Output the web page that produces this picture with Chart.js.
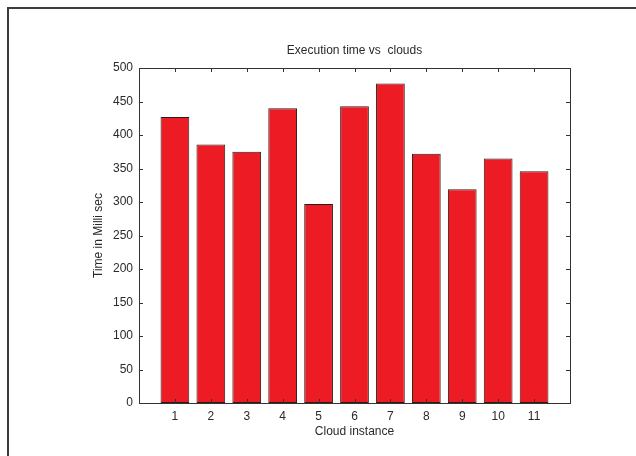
<!DOCTYPE html>
<html>
<head>
<meta charset="utf-8">
<script src="https://cdn.jsdelivr.net/npm/chart.js@4/dist/chart.umd.min.js"></script>
<style>
  html, body { margin: 0; padding: 0; background: #ffffff; }
  #wrap { width: 636px; height: 456px; position: relative; }
</style>
</head>
<body>
<div id="wrap"><canvas id="c" width="636" height="456"></canvas></div>
<script>
// Cloud instances and measured execution times (ms)
const categories = ['1', '2', '3', '4', '5', '6', '7', '8', '9', '10', '11'];
const execTimes = [427, 386, 375, 440, 297, 443, 477, 372, 319, 365, 346];
const yTickValues = [0, 50, 100, 150, 200, 250, 300, 350, 400, 450, 500];

const chartTitle = 'Execution time vs  clouds';
const xTitle = 'Cloud instance';
const yTitle = 'Time in Milli sec';

const FONT = '"Liberation Sans", Arial, Helvetica, sans-serif';
const INK = '#2a2a2a';
const AXIS = '#333333';

// Box around the axes with inward tick marks on all four sides,
// plus the figure frame.
const frameTicks = {
  id: 'frameTicks',
  beforeDraw(chart) {
    const ctx = chart.ctx;
    ctx.save();
    ctx.strokeStyle = '#3c3c3c';
    ctx.lineWidth = 2;
    ctx.beginPath();
    ctx.moveTo(8, chart.height + 2);
    ctx.lineTo(8, 8);
    ctx.lineTo(chart.width + 2, 8);
    ctx.stroke();
    ctx.restore();
  },
  afterDatasetsDraw(chart) {
    const {ctx, chartArea: a, scales: {x, y}} = chart;
    const len = 4;
    ctx.save();
    ctx.strokeStyle = AXIS;
    ctx.lineWidth = 1;
    ctx.beginPath();
    y.ticks.forEach(t => {
      const py = Math.round(y.getPixelForValue(t.value)) + 0.5;
      ctx.moveTo(a.left, py); ctx.lineTo(a.left + len, py);
      ctx.moveTo(a.right, py); ctx.lineTo(a.right - len, py);
    });
    x.ticks.forEach(t => {
      const px = Math.round(x.getPixelForValue(t.value)) + 0.5;
      ctx.moveTo(px, a.bottom); ctx.lineTo(px, a.bottom - len);
      ctx.moveTo(px, a.top); ctx.lineTo(px, a.top + len);
    });
    ctx.stroke();
    ctx.strokeRect(Math.round(a.left) + 0.5, Math.round(a.top) + 0.5,
                   Math.round(a.right - a.left), Math.round(a.bottom - a.top));
    ctx.restore();
  }
};

new Chart(document.getElementById('c'), {
  type: 'bar',
  data: {
    datasets: [{
      data: categories.map((c, i) => ({x: i + 1, y: execTimes[i]})),
      backgroundColor: '#ed1c24',
      borderColor: '#2b1c1c',
      borderWidth: 1,
      borderSkipped: false,
      barPercentage: 0.8,
      categoryPercentage: 1.0
    }]
  },
  options: {
    responsive: false,
    animation: false,
    devicePixelRatio: 1,
    layout: { padding: { top: 44, right: 66, bottom: 0, left: 0 } },
    plugins: {
      legend: { display: false },
      tooltip: { enabled: false },
      title: {
        display: true,
        text: chartTitle,
        fullSize: false,
        color: INK,
        font: { family: FONT, size: 12, weight: 'normal', lineHeight: 14 / 12 },
        padding: { top: 0, bottom: 10 }
      }
    },
    scales: {
      x: {
        type: 'linear',
        min: 0,
        max: 12,
        offset: false,
        afterBuildTicks(scale) {
          scale.ticks = categories.map((c, i) => ({value: i + 1}));
        },
        afterFit(scale) { scale.height = 53; },
        grid: { display: false, drawTicks: false },
        border: { display: false },
        ticks: {
          autoSkip: false,
          maxRotation: 0,
          padding: 6,
          color: INK,
          font: { family: FONT, size: 12 },
          callback: (v) => categories[v - 1] ?? ''
        },
        title: {
          display: true,
          text: xTitle,
          color: INK,
          font: { family: FONT, size: 12, lineHeight: 14 / 12 },
          padding: { top: 0, bottom: 17 }
        }
      },
      y: {
        min: 0,
        max: 500,
        afterBuildTicks(scale) {
          scale.ticks = yTickValues.map(v => ({value: v}));
        },
        afterFit(scale) { scale.width = 139; },
        grid: { display: false, drawTicks: false },
        border: { display: false },
        ticks: {
          padding: 6,
          color: INK,
          font: { family: FONT, size: 12 }
        },
        title: {
          display: true,
          text: yTitle,
          color: INK,
          font: { family: FONT, size: 12, lineHeight: 14 / 12 },
          padding: { top: 92, bottom: 0 }
        }
      }
    }
  },
  plugins: [frameTicks]
});
</script>
</body>
</html>
